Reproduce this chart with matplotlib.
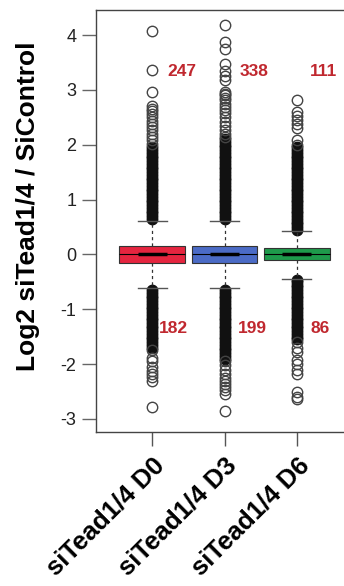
import matplotlib
matplotlib.use("Agg")
import matplotlib.pyplot as plt

plt.rcParams["font.family"] = ["Liberation Sans", "DejaVu Sans"]

# group labels and box statistics (log2 ratio)
groups = ["siTead1/4 D0", "siTead1/4 D3", "siTead1/4 D6"]
box_colors = ["#E5253F", "#4B6BC6", "#1E9A4B"]
q1 = [-0.15, -0.15, -0.11]
med = [0.0, 0.0, 0.0]
q3 = [0.15, 0.15, 0.11]
whislo = [-0.62, -0.61, -0.44]
whishi = [0.61, 0.61, 0.42]

# counts shown above / below each box
n_up = [247, 338, 111]
n_down = [182, 199, 86]

# outliers: dense columns (read as solid black) and the sparse circles
dense_d0 = [0.65, 0.70, 0.75, 0.80, 0.85, 0.90, 0.95, 1.00, 1.05, 1.10, 1.15,
            1.20, 1.25, 1.30, 1.35, 1.40, 1.45, 1.50, 1.55, 1.60, 1.65, 1.70,
            1.75, 1.80, 1.85, 1.90, 1.95,
            -0.65, -0.70, -0.75, -0.80, -0.85, -0.90, -0.95, -1.00, -1.05,
            -1.10, -1.15, -1.20, -1.25, -1.30, -1.35, -1.40, -1.45, -1.50,
            -1.55, -1.60, -1.65, -1.70]
sparse_d0 = [2.02, 2.08, 2.14, 2.20, 2.26, 2.32, 2.38, 2.44, 2.50, 2.56, 2.62,
             2.66, 2.70, 2.97, 3.36, 4.07,
             -1.75, -1.88, -1.95, -2.06, -2.12, -2.18, -2.24, -2.30, -2.78]
dense_d3 = [0.65, 0.70, 0.75, 0.80, 0.85, 0.90, 0.95, 1.00, 1.05, 1.10, 1.15,
            1.20, 1.25, 1.30, 1.35, 1.40, 1.45, 1.50, 1.55, 1.60, 1.65, 1.70,
            1.75, 1.80, 1.85, 1.90, 1.95, 2.00, 2.05, 2.10,
            -0.65, -0.70, -0.75, -0.80, -0.85, -0.90, -0.95, -1.00, -1.05,
            -1.10, -1.15, -1.20, -1.25, -1.30, -1.35, -1.40, -1.45, -1.50,
            -1.55, -1.60, -1.65, -1.70, -1.75, -1.80, -1.85, -1.90]
sparse_d3 = [2.14, 2.20, 2.26, 2.35, 2.42, 2.50, 2.57, 2.63, 2.69, 2.75, 2.81,
             2.86, 2.90, 2.93, 2.96, 3.18, 3.25, 3.34, 3.48, 3.75, 3.87, 4.18,
             -1.95, -2.02, -2.10, -2.18, -2.25, -2.30, -2.36, -2.42, -2.48,
             -2.54, -2.85]
dense_d6 = [0.45, 0.50, 0.55, 0.60, 0.65, 0.70, 0.75, 0.80, 0.85, 0.90, 0.95,
            1.00, 1.05, 1.10, 1.15, 1.20, 1.25, 1.30, 1.35, 1.40, 1.45, 1.50,
            1.55, 1.60, 1.65, 1.70, 1.75, 1.80, 1.85, 1.90, 1.95,
            -0.47, -0.50, -0.55, -0.60, -0.65, -0.70, -0.75, -0.80, -0.85,
            -0.90, -0.95, -1.00, -1.05, -1.10, -1.15, -1.20, -1.25, -1.30,
            -1.35, -1.40, -1.45, -1.50, -1.55]
sparse_d6 = [2.00, 2.08, 2.30, 2.38, 2.45, 2.52, 2.60, 2.81,
             -1.60, -1.70, -1.78, -1.93, -2.00, -2.10, -2.18, -2.51, -2.60,
             -2.63]

dense = [dense_d0, dense_d3, dense_d6]
sparse = [sparse_d0, sparse_d3, sparse_d6]

fig = plt.figure(figsize=(3.44, 5.86), dpi=100)
ax = fig.add_axes([96 / 344, 154 / 586, 1.0 - 96 / 344 + 0.01, 422 / 586])

positions = [1, 2, 3]
stats = []
for i in range(3):
    stats.append(dict(med=med[i], q1=q1[i], q3=q3[i],
                      whislo=whislo[i], whishi=whishi[i], fliers=[]))

bp = ax.bxp(stats, positions=positions, widths=0.91, capwidths=0.4,
            patch_artist=True, showfliers=False,
            boxprops=dict(edgecolor="#333333", linewidth=0.8),
            medianprops=dict(color="black", linewidth=0.8),
            whiskerprops=dict(color="#333333", linewidth=0.9, linestyle=(0, (2.5, 2.5))),
            capprops=dict(color="#555555", linewidth=1.0))
for patch, c in zip(bp["boxes"], box_colors):
    patch.set_facecolor(c)

# thick median segment in the middle of each box
for x, m in zip(positions, med):
    ax.plot([x - 0.2, x + 0.2], [m, m], color="black", lw=2.5,
            solid_capstyle="butt", zorder=4)

for x, d, s in zip(positions, dense, sparse):
    ax.plot([x] * len(d), d, "o", ms=7.5, mfc="#111111", mec="#111111",
            mew=1.0, zorder=1)
    ax.plot([x] * len(s), s, "o", ms=7.5, mfc="none", mec="#444444",
            mew=1.0, zorder=1)

red = "#C0282F"
for x, n in zip(positions, n_up):
    ax.text(x + 0.21 if x != 3 else x + 0.18, 3.33, str(n), color=red,
            fontsize=12.5, fontweight="bold", ha="left", va="center")
for x, n in zip(positions, n_down):
    ax.text(x + 0.09 if x == 1 else x + 0.19, -1.35, str(n), color=red,
            fontsize=12.5, fontweight="bold", ha="left", va="center")

ax.set_xlim(0.221, 3.70)
ax.set_ylim(-3.237, 4.456)
ax.set_yticks([-3, -2, -1, 0, 1, 2, 3, 4])
ax.set_yticklabels(["-3", "-2", "-1", "0", "1", "2", "3", "4"])
ax.set_xticks(positions)
ax.set_xticklabels(groups, rotation=45, ha="right", va="top",
                   rotation_mode="anchor", fontsize=18.5, fontweight="bold")
ax.tick_params(axis="y", length=10, width=1, color="#666666",
               labelsize=13, labelcolor="#222222", pad=4)
ax.tick_params(axis="x", length=10, width=1, color="#555555", pad=5)
ax.set_ylabel("Log2 siTead1/4 / SiControl", fontsize=19, fontweight="bold")
ax.yaxis.set_label_coords(-0.223, 0.535)
for sp in ax.spines.values():
    sp.set_color("#444444")
    sp.set_linewidth(1.0)

fig.savefig("out.png", dpi=100)
plt.close(fig)
